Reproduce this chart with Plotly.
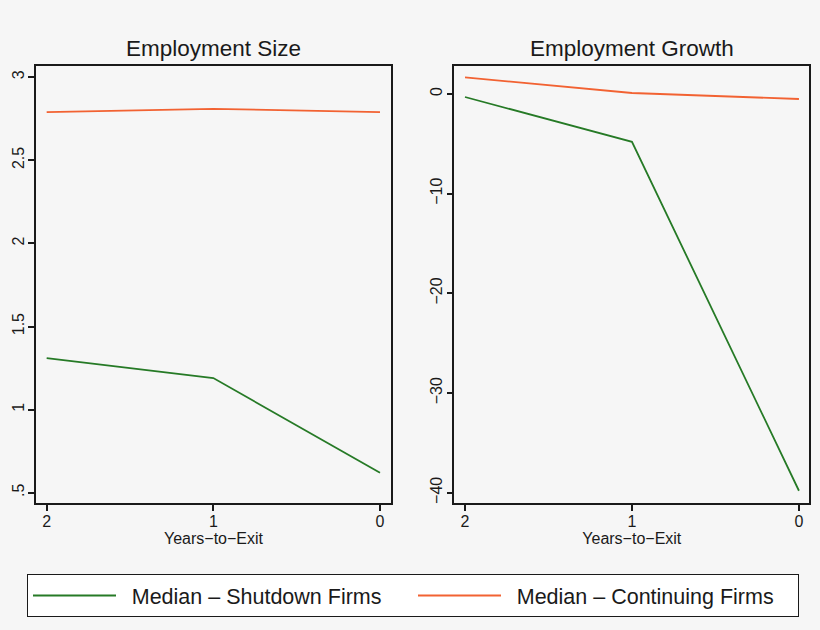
import plotly.graph_objects as go

years = [2, 1, 0]
size_shutdown = [1.31, 1.19, 0.62]
size_continuing = [2.79, 2.81, 2.79]
growth_shutdown = [-0.3, -4.8, -39.8]
growth_continuing = [1.67, 0.1, -0.5]

size_ticks = [3, 2.5, 2, 1.5, 1, 0.5]
size_ticklabels = ["3", "2.5", "2", "1.5", "1", ".5"]
growth_ticks = [0, -10, -20, -30, -40]
growth_ticklabels = ["0", "\u221210", "\u221220", "\u221230", "\u221240"]
x_ticks = [2, 1, 0]
x_ticklabels = ["2", "1", "0"]
series_names = ["\u2002Median \u2013 Shutdown Firms", "\u2002Median \u2013 Continuing Firms"]

GREEN = "#267a26"
ORANGE = "#f26232"
BG = "#f6f6f6"
INK = "#1a1a1a"
FONT = "Liberation Sans"

W, H = 820, 630

def px_x(a, b):
    return [a / W, b / W]

def px_y(top, bottom):
    return [1 - bottom / H, 1 - top / H]

fig = go.Figure()
fig.add_trace(go.Scatter(x=years, y=size_shutdown, mode="lines", line=dict(color=GREEN, width=1.8),
                         name=series_names[0], xaxis="x", yaxis="y"))
fig.add_trace(go.Scatter(x=years, y=size_continuing, mode="lines", line=dict(color=ORANGE, width=1.8),
                         name=series_names[1], xaxis="x", yaxis="y"))
fig.add_trace(go.Scatter(x=years, y=growth_shutdown, mode="lines", line=dict(color=GREEN, width=1.8),
                         name=series_names[0], xaxis="x2", yaxis="y2", showlegend=False))
fig.add_trace(go.Scatter(x=years, y=growth_continuing, mode="lines", line=dict(color=ORANGE, width=1.8),
                         name=series_names[1], xaxis="x2", yaxis="y2", showlegend=False))

axis_common = dict(showgrid=False, zeroline=False, showline=True, linecolor=INK, linewidth=1.5,
                   mirror=True, ticks="outside", ticklen=6, tickwidth=1.5, tickcolor=INK,
                   tickfont=dict(family=FONT, size=16, color=INK))

xcommon = dict(axis_common, tickmode="array", tickvals=x_ticks, ticktext=x_ticklabels,
               ticklabelstandoff=-3,
               title=dict(text="Years\u2212to\u2212Exit", font=dict(family=FONT, size=16, color=INK), standoff=2))

ycommon = dict(axis_common, tickmode="array", tickangle=-90, ticklabelstandoff=-2)

fig.update_layout(
    width=W, height=H,
    margin=dict(l=0, r=0, t=0, b=0),
    paper_bgcolor=BG, plot_bgcolor=BG,
    font=dict(family=FONT, color=INK),
    xaxis=dict(xcommon, domain=px_x(36, 391), range=[2.064, -0.066], anchor="y"),
    yaxis=dict(ycommon, domain=px_y(66, 503), range=[0.438, 3.068],
               tickvals=size_ticks, ticktext=size_ticklabels, anchor="x"),
    xaxis2=dict(xcommon, domain=px_x(454.3, 809.3), range=[2.064, -0.062], anchor="y2"),
    yaxis2=dict(ycommon, domain=px_y(66, 503), range=[-41.03, 2.81],
                tickvals=growth_ticks, ticktext=growth_ticklabels, anchor="x2"),
    showlegend=True,
    legend=dict(orientation="h", x=27 / W, y=1 - 574 / H, xanchor="left", yanchor="top",
                bgcolor="white", bordercolor=INK, borderwidth=1,
                font=dict(family=FONT, size=21.5, color=INK),
                itemwidth=83, entrywidth=287, tracegroupgap=0),
    annotations=[
        dict(text="Employment Size", x=213.5 / W, y=1 - 49 / H, xref="paper", yref="paper",
             xanchor="center", yanchor="middle",
             showarrow=False, font=dict(family=FONT, size=22.5, color=INK)),
        dict(text="Employment Growth", x=631.8 / W, y=1 - 49 / H, xref="paper", yref="paper",
             xanchor="center", yanchor="middle",
             showarrow=False, font=dict(family=FONT, size=22.5, color=INK)),
    ],
)

fig.write_html("out.html", config={"displayModeBar": False},
               post_script="document.body.style.margin='0';document.body.style.overflow='hidden';")
